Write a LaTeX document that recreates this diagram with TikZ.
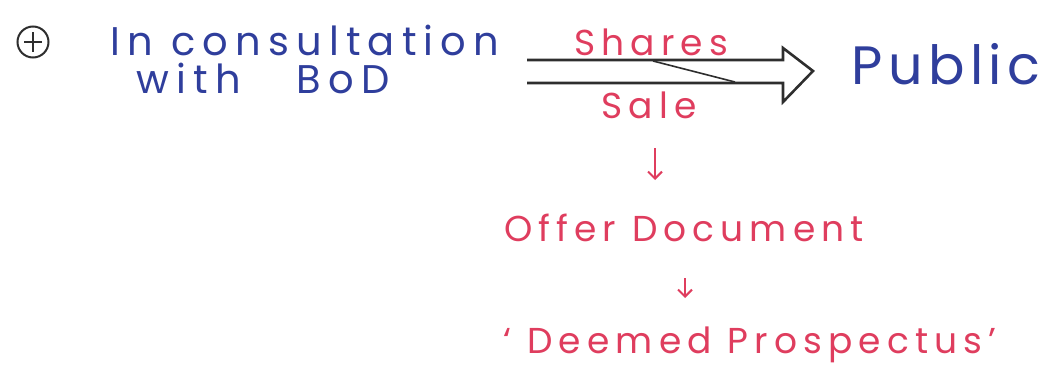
\documentclass[tikz,border=0pt]{standalone}
\usepackage{fontspec}
\setmainfont{Poppins}
\usetikzlibrary{arrows.meta, calc, positioning}
\definecolor{inkBlue}{HTML}{2F3E9C}
\definecolor{inkRed}{HTML}{DF3D5E}
\definecolor{inkBlack}{HTML}{2E2E2E}
\tikzset{
  bluetxt/.style  = {inkBlue, font=\fontsize{40}{46}\selectfont\addfontfeature{LetterSpace=18},
                     inner sep=0pt},
  redtxt/.style   = {inkRed, font=\fontsize{36}{42}\selectfont\addfontfeature{LetterSpace=17},
                     inner sep=0pt},
  pubtxt/.style   = {inkBlue, font=\fontsize{54}{60}\selectfont\addfontfeature{LetterSpace=10},
                     inner sep=0pt},
  bigarrow/.style = {inkBlack, line width=2.6pt, line join=miter},
  downarrow/.style= {-{Straight Barb[length=7pt, width=14pt]}, inkRed, line width=2pt},
  bullet/.style   = {circle, draw=inkBlack, line width=2pt, minimum size=31pt, inner sep=0pt},
}

\begin{document}
\begin{tikzpicture}[x=1pt, y=-1pt]
  \useasboundingbox (0,0) rectangle (1062,372);

  \node[bullet] (plus) at (33,42) {};
  \draw[inkBlack, line width=1.8pt] ($(plus.center)+(-9,0)$) -- ($(plus.center)+(9,0)$);
  \draw[inkBlack, line width=1.8pt] ($(plus.center)+(0,-10)$) -- ($(plus.center)+(0,10)$);
  \node[bluetxt] (consult) at (305,40) {In consultation};
  \node[bluetxt] (bod) at (263,78) {with\hspace{1.4em}BoD};

  \node[redtxt] (shares) at (651,42) {Shares};
  \node[redtxt] (sale) at (649,105) {Sale};
  \node[pubtxt] (public) at (946,64) {Public};

  % hollow double arrow towards the public
  \coordinate (tail) at (527,71);
  \coordinate (tip) at (813,71);
  \draw[bigarrow] ($(tail)+(0,-11)$) -- (783,60) -- (783,48) -- (tip)
    -- (783,102) -- (783,83) -- ($(tail)+(0,12)$);
  \draw[inkBlack, line width=1.6pt] (653,61) -- (735,82);

  \node[redtxt] (offer) at (684,228) {Offer Document};
  \node[redtxt] (deemed) at (750,345) {` Deemed Prospectus'};

  \coordinate (d1) at (655,148);
  \coordinate (d2) at (685,278);
  \draw[downarrow] (d1) -- ++(0,32);
  \draw[downarrow] (d2) -- ++(0,20);
\end{tikzpicture}
\end{document}
